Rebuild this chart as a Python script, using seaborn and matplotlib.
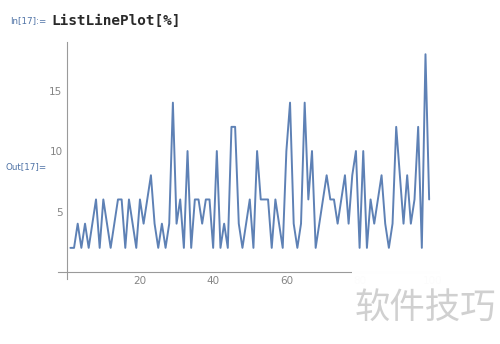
import matplotlib
matplotlib.use("Agg")
import matplotlib.pyplot as plt
import seaborn as sns
import pandas as pd
from matplotlib.patches import Rectangle
from matplotlib.ticker import MultipleLocator

# Data: values (prime gaps)
index = list(range(1, 100))
values = [2, 2, 4, 2, 4, 2, 4, 6, 2, 6,
          4, 2, 4, 6, 6, 2, 6, 4, 2, 6,
          4, 6, 8, 4, 2, 4, 2, 4, 14, 4,
          6, 2, 10, 2, 6, 6, 4, 6, 6, 2,
          10, 2, 4, 2, 12, 12, 4, 2, 4, 6,
          2, 10, 6, 6, 6, 2, 6, 4, 2, 10,
          14, 4, 2, 4, 14, 6, 10, 2, 4, 6,
          8, 6, 6, 4, 6, 8, 4, 8, 10, 2,
          10, 2, 6, 4, 6, 8, 4, 2, 4, 12,
          8, 4, 8, 4, 6, 12, 2, 18, 6]
x_ticks = [20, 40, 60, 80, 100]
y_ticks = [5, 10, 15]

df = pd.DataFrame({"i": index, "v": values})

sns.set_theme(style="white")
plt.rcParams['font.family'] = ['DejaVu Sans', 'Noto Sans CJK SC']

fig = plt.figure(figsize=(5.0, 3.44), dpi=100)
ax = fig.add_axes([0.1166, 0.188, 0.76, 0.6895])

sns.lineplot(data=df, x="i", y="v", ax=ax, color="#5e81b5", linewidth=1.4)

ax.set_xlim(-2.3, 101.5)
ax.set_ylim(-0.6, 19.0)
ax.set_xlabel("")
ax.set_ylabel("")

for s in ["top", "right"]:
    ax.spines[s].set_visible(False)
ax.spines["left"].set_position(("data", 0))
ax.spines["bottom"].set_position(("data", 0))
for s in ["left", "bottom"]:
    ax.spines[s].set_color("#9a9a9a")
    ax.spines[s].set_linewidth(0.8)

ax.set_xticks(x_ticks)
ax.set_yticks(y_ticks)
ax.xaxis.set_minor_locator(MultipleLocator(5))
ax.yaxis.set_minor_locator(MultipleLocator(1))
ax.tick_params(which="both", direction="in", colors="#9a9a9a", width=0.8,
               labelcolor="#858585", labelsize=7.5)
ax.tick_params(which="major", length=3.0, pad=3)
ax.tick_params(which="minor", length=1.6)

# Notebook labels
fig.text(10 / 500, 1 - 21 / 344, "In[17]:=", color="#4f73a6", fontsize=6.3,
         va="center", ha="left")
fig.text(51 / 500, 1 - 21 / 344, "ListLinePlot[%]", color="#2a2a2a",
         fontsize=10.4, family="DejaVu Sans Mono", weight="bold",
         va="center", ha="left")
fig.text(6 / 500, 1 - 167 / 344, "Out[17]=", color="#4f73a6", fontsize=6.3,
         va="center", ha="left")

# Watermark overlay
fig.patches.append(Rectangle((352 / 500, 0), 148 / 500, (344 - 262) / 344,
                             transform=fig.transFigure, facecolor="white",
                             edgecolor="none", alpha=0.985, zorder=10))
fig.patches.append(Rectangle((352 / 500, (344 - 276) / 344), 148 / 500, 14 / 344,
                             transform=fig.transFigure, facecolor="white",
                             edgecolor="none", alpha=0.9, zorder=10))
fig.text(425 / 500, 1 - 308 / 344, "软件技巧", color="#d0d0d0", fontsize=25.5,
         family=["Noto Sans CJK SC"], va="center", ha="center", zorder=11)

fig.savefig("out.png", dpi=100)
